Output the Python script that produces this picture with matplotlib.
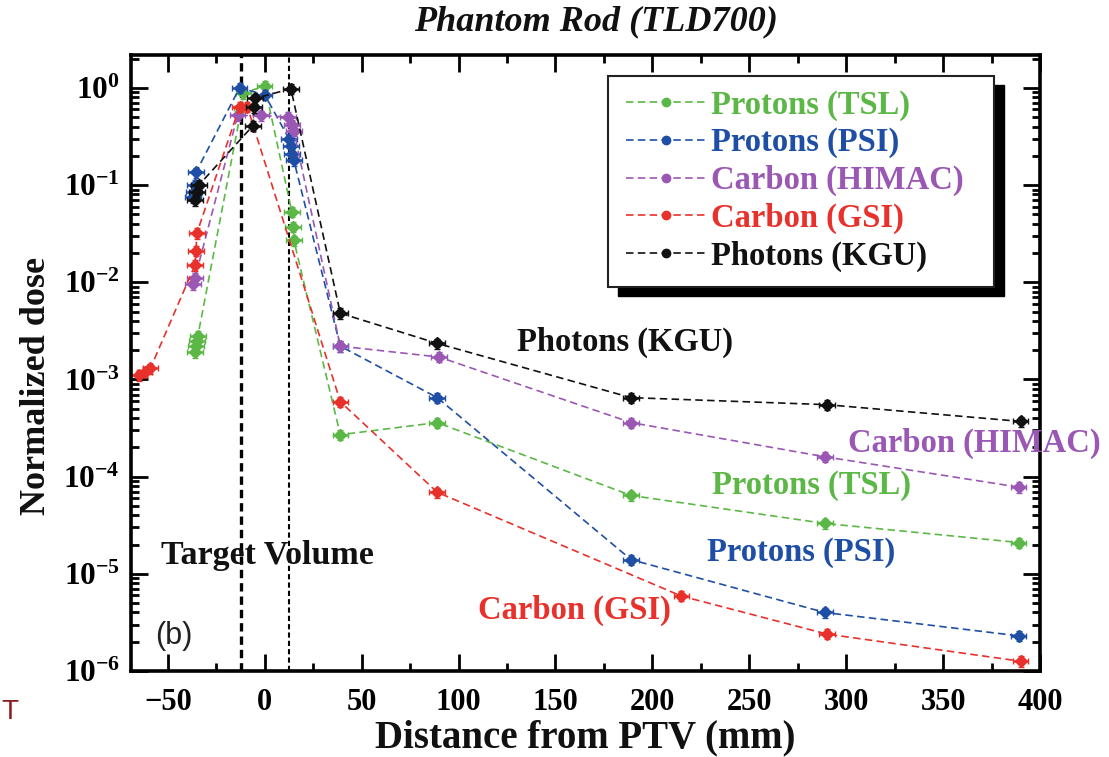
import numpy as np
import matplotlib.pyplot as plt
from matplotlib.lines import Line2D
from matplotlib.patches import Rectangle
from matplotlib.ticker import LogLocator, FuncFormatter, MultipleLocator, NullFormatter

plt.rcParams['font.family'] = ['Liberation Serif', 'DejaVu Serif']
plt.rcParams['mathtext.fontset'] = 'custom'
plt.rcParams['mathtext.bf'] = 'Liberation Serif:bold'
plt.rcParams['mathtext.rm'] = 'Liberation Serif:bold'

# values (distance in mm, normalized dose)
tsl_x = [-36, -35.5, -35, -34.5, -12, -11, 0, 14, 14.5, 15, 39, 89, 189, 289, 389]
tsl_y = [1.9e-3, 2.2e-3, 2.5e-3, 2.8e-3, 0.62, 0.88, 1.05, 0.053, 0.037, 0.027,
         2.7e-4, 3.6e-4, 6.4e-5, 3.3e-5, 2.1e-5]

psi_x = [-37, -36.5, -36, -35.5, -13, 0, 12.5, 13.5, 14, 15, 39, 89, 189, 289, 389]
psi_y = [0.075, 0.085, 0.1, 0.135, 1.0, 0.85, 0.3, 0.25, 0.21, 0.18,
         2.2e-3, 6.5e-4, 1.4e-5, 4.0e-6, 2.3e-6]

himac_x = [-37, -36, -14, -2, 12, 14, 15, 39, 90, 189, 289, 389]
himac_y = [0.0095, 0.011, 0.52, 0.52, 0.5, 0.42, 0.36, 2.2e-3, 1.7e-3, 3.6e-4, 1.6e-4, 7.8e-5]

gsi_x = [-65, -62, -59, -36, -35.5, -35, -13, -9, 39, 89, 215, 290, 390]
gsi_y = [1.1e-3, 1.2e-3, 1.3e-3, 0.015, 0.021, 0.032, 0.64, 0.64,
         5.9e-4, 6.9e-5, 5.9e-6, 2.4e-6, 1.26e-6]

kgu_x = [-36, -35, -34, -6, -5.5, -5, 13.5, 39, 89, 189, 290, 390]
kgu_y = [0.07, 0.085, 0.1, 0.41, 0.63, 0.78, 0.98, 4.8e-3, 2.35e-3, 6.5e-4, 5.5e-4, 3.7e-4]

labels = ["Protons (TSL)", "Protons (PSI)", "Carbon (HIMAC)", "Carbon (GSI)", "Photons (KGU)"]
colors = ["#5cb846", "#1f4fa5", "#9a58b4", "#e8312b", "#111111"]
xs = [tsl_x, psi_x, himac_x, gsi_x, kgu_x]
ys = [tsl_y, psi_y, himac_y, gsi_y, kgu_y]

# in-plot annotations: (text, x, y)
notes = [("Photons (KGU)", 186, 2.4e-3),
         ("Carbon (HIMAC)", 366, 2.2e-4),
         ("Protons (TSL)", 282, 8.1e-5),
         ("Protons (PSI)", 277, 1.66e-5),
         ("Carbon (GSI)", 160, 4.2e-6)]
note_colors = ["#111111", "#9a58b4", "#5cb846", "#1f4fa5", "#e8312b"]

dash = (0, (4.5, 2.6))

fig = plt.figure(figsize=(11.09, 7.57), dpi=100)
ax = fig.add_axes([131 / 1109, 1 - 671 / 757, 909 / 1109, 616 / 757])

for x, y, c in zip(xs, ys, colors):
    x = np.array(x)
    y = np.array(y)
    ax.plot(x, y, ls=dash, lw=1.2, color=c, marker='D', ms=6.5, mec=c, zorder=2)
    ax.errorbar(x, y, xerr=4, yerr=0.12 * y, fmt='none', ecolor=c,
                elinewidth=1.8, capsize=2.5, zorder=2)

# target volume borders
ax.axvline(-12.5, color='black', ls=(0, (2.5, 1.5)), lw=2.4, zorder=1)
ax.axvline(12.5, color='black', ls=(0, (2.5, 1.5)), lw=1.5, zorder=1)

ax.set_yscale('log')
ax.set_xlim(-69, 400)
ax.set_ylim(1e-6, 2.18)

ax.xaxis.set_major_locator(MultipleLocator(50))
ax.xaxis.set_minor_locator(MultipleLocator(25))
ax.yaxis.set_major_locator(LogLocator(base=10, numticks=20))
ax.yaxis.set_minor_locator(LogLocator(base=10, subs=np.arange(2, 10), numticks=20))
ax.yaxis.set_minor_formatter(NullFormatter())
ax.yaxis.set_major_formatter(FuncFormatter(lambda v, p: r'$\mathbf{10^{%d}}$' % round(np.log10(v))))

ax.tick_params(which='both', direction='in', top=True, right=True, width=2)
ax.tick_params(which='major', length=12)
ax.tick_params(which='minor', length=6)
ax.tick_params(axis='x', labelsize=22, pad=12)
ax.tick_params(axis='y', labelsize=22.5, pad=8)
for t in ax.get_xticklabels():
    t.set_fontweight('bold')
for s in ax.spines.values():
    s.set_linewidth(2.6)

for (txt, x, y), c in zip(notes, note_colors):
    ax.text(x, y, txt, color=c, fontsize=23.5, fontweight='bold',
            ha='center', va='center', clip_on=False, zorder=6)
ax.text(1.5, 1.55e-5, "Target Volume", color='#111111', fontsize=24.5,
        fontweight='bold', ha='center', va='center')
ax.text(-47, 2.3e-6, "(b)", color='#222222', fontsize=22, family='Liberation Sans',
        ha='center', va='center')

# legend box with drop shadow
bx, by, bw, bh = 0.525, 0.623, 0.4246, 0.3425
ax.add_patch(Rectangle((bx + 0.011, by - 0.0146), bw, bh, transform=ax.transAxes,
                       facecolor='black', edgecolor='black', zorder=3.9))
ax.add_patch(Rectangle((bx, by), bw, bh, transform=ax.transAxes,
                       facecolor='white', edgecolor='#222222', lw=1.5, zorder=4))
handles = [Line2D([], [], color=c, ls=dash, lw=1.2, marker='o', ms=6) for c in colors]
leg = ax.legend(handles, labels, loc='upper left', bbox_to_anchor=(0.545, 0.944),
                frameon=False, prop={'size': 23.5, 'weight': 'bold'},
                handlelength=2.4, handletextpad=0.2, labelspacing=0.2,
                borderpad=0, borderaxespad=0)
leg.set_zorder(5)
for t, c in zip(leg.get_texts(), colors):
    t.set_color(c)

fig.text(596 / 1109, 1 - 22 / 757, "Phantom Rod (TLD700)", fontsize=26,
         fontweight='bold', style='italic', ha='center', va='center', color='#111111')
fig.text(585 / 1109, 1 - 738 / 757, "Distance from PTV (mm)", fontsize=28,
         fontweight='bold', ha='center', va='center', color='#111111')
fig.text(37 / 1109, 1 - 386 / 757, "Normalized dose", fontsize=26, rotation=90,
         fontweight='bold', ha='center', va='center', color='#111111')
fig.text(1 / 1109, 1 - 712 / 757, "T", fontsize=20, family='Liberation Sans',
         color='#8b1f1f', ha='left', va='center')

fig.savefig("out.png", dpi=100)
